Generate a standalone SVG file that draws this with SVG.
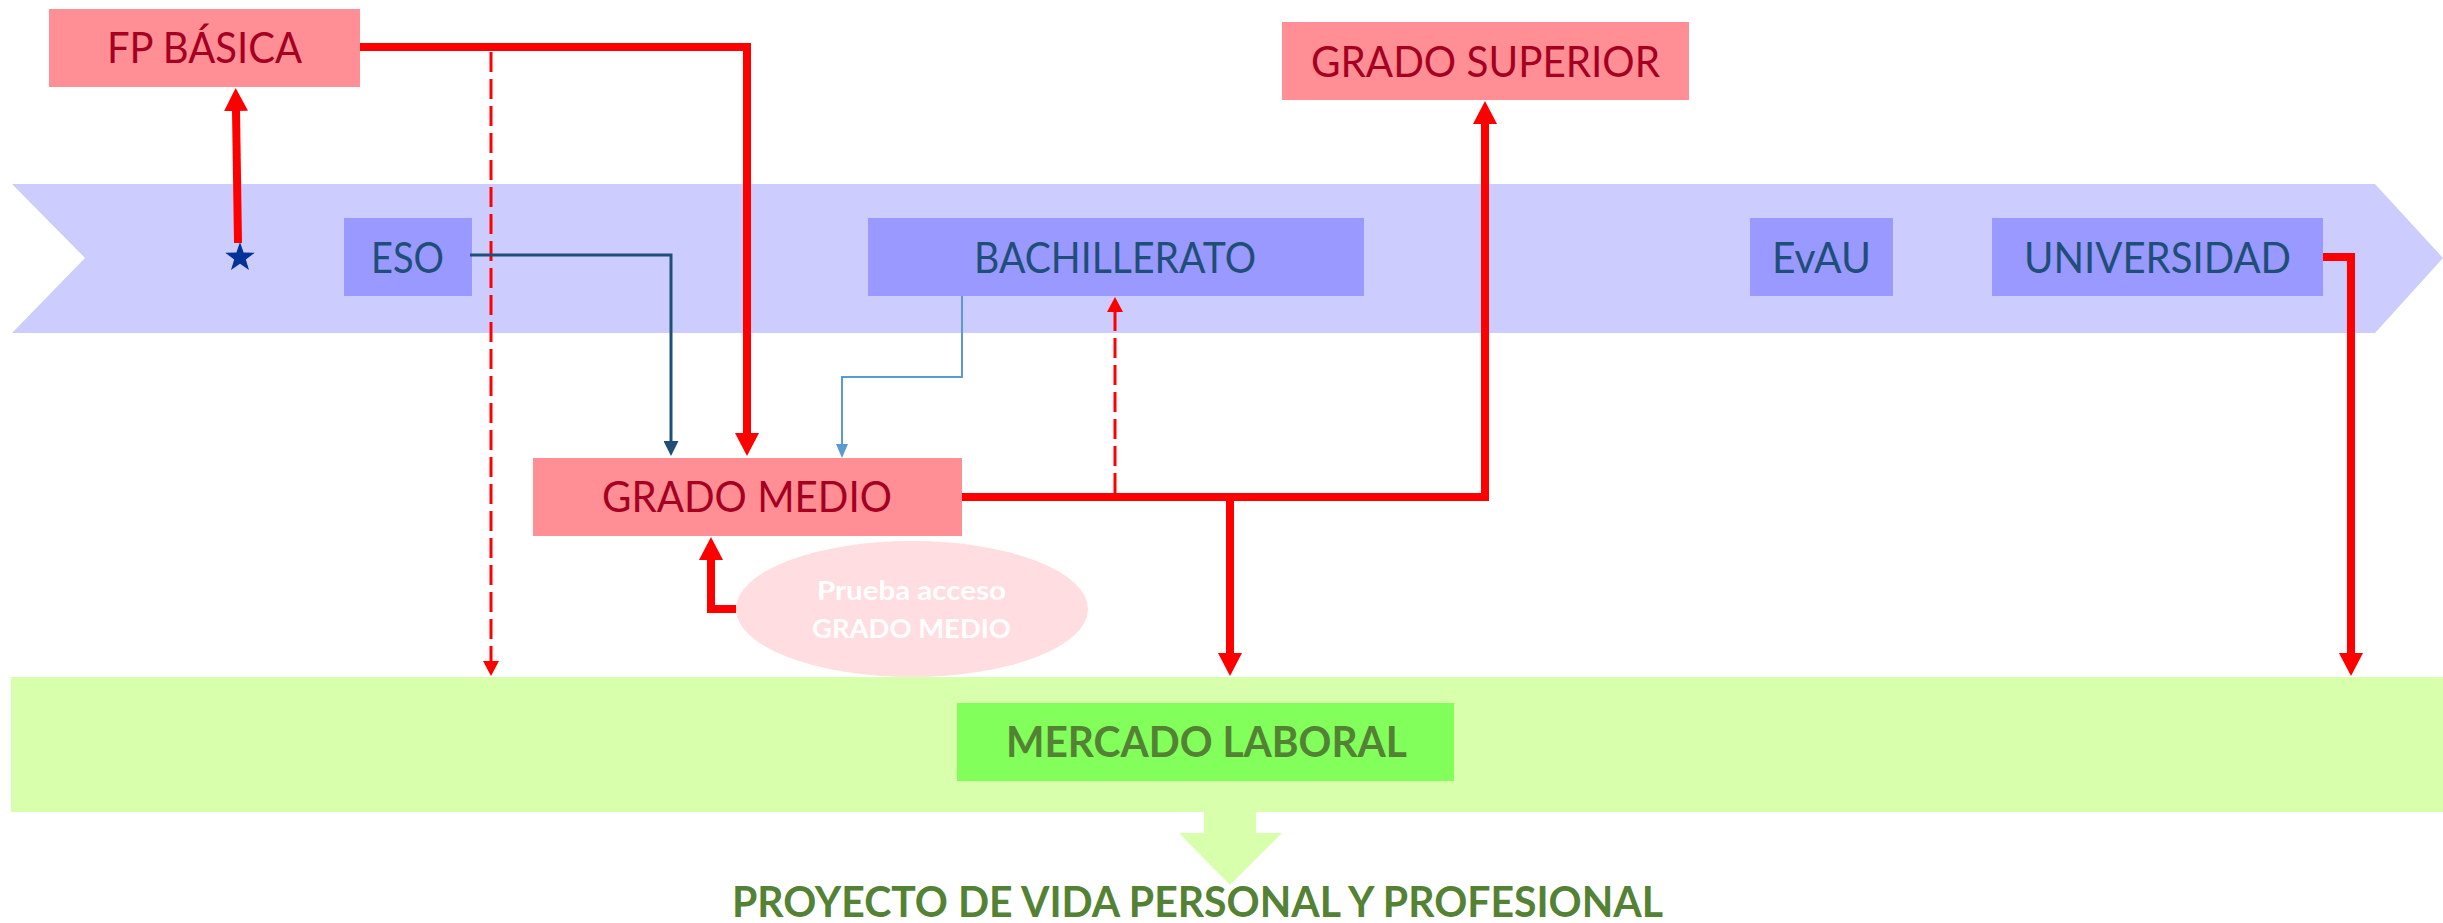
<svg xmlns="http://www.w3.org/2000/svg" width="2443" height="923" viewBox="0 0 2443 923">
<style>
.lbl{font-family:Lato,"Liberation Sans",sans-serif;font-size:42px;text-anchor:middle}
.pink{fill:#FF8F94}
.pinkt{fill:#A50021}
.blue{fill:#9999FF}
.bluet{fill:#1F4E79}
.greent{fill:#548235;font-weight:bold}
.thick{fill:none;stroke:#FF0000;stroke-width:8;stroke-linejoin:miter}
.dash{fill:none;stroke:#FF0000;stroke-width:3;stroke-dasharray:20 7}
</style>
<defs>
<marker id="ah" markerUnits="userSpaceOnUse" markerWidth="23" markerHeight="24" viewBox="0 0 23 24" refX="1" refY="12" orient="auto"><path d="M0,0 L23,12 L0,24 Z" fill="#FF0000"/></marker>
<marker id="ahd" markerUnits="userSpaceOnUse" markerWidth="15" markerHeight="16" viewBox="0 0 15 16" refX="1" refY="8" orient="auto"><path d="M0,0 L15,8 L0,16 Z" fill="#FF0000"/></marker>
<marker id="ahb" markerUnits="userSpaceOnUse" markerWidth="15" markerHeight="15" viewBox="0 0 15 15" refX="1" refY="7.5" orient="auto"><path d="M0,0 L15,7.5 L0,15 Z" fill="#1F4E79"/></marker>
<marker id="ahl" markerUnits="userSpaceOnUse" markerWidth="14" markerHeight="12" viewBox="0 0 14 12" refX="1" refY="6" orient="auto"><path d="M0,0 L14,6 L0,12 Z" fill="#5B9BD5"/></marker>
</defs>
<g id="band">
<polygon points="12,184 2375,184 2443,258 2375,333 12,333 85,258" fill="#CCCCFF"/>
</g>
<g id="mercado-band">
<rect x="11" y="677" width="2432" height="135" fill="#D8FFAB"/>
<polygon points="1204,812 1256,812 1256,833 1282,833 1230,885 1179,833 1204,833" fill="#D8FFAB"/>
</g>
<g id="star">
<polygon points="240,242 243.6,252.6 254.7,252.8 245.8,259.5 249,270.1 240,263.7 231,270.1 234.2,259.5 225.3,252.8 236.4,252.6" fill="#003399"/>
</g>
<g id="fp-basica">
<rect class="pink" x="49" y="9" width="311" height="78"/>
<text class="lbl pinkt" x="204.5" y="63" textLength="195" lengthAdjust="spacingAndGlyphs">FP BÁSICA</text>
</g>
<g id="grado-superior">
<rect class="pink" x="1282" y="22" width="407" height="78"/>
<text class="lbl pinkt" x="1485.5" y="77" textLength="349" lengthAdjust="spacingAndGlyphs">GRADO SUPERIOR</text>
</g>
<g id="eso">
<rect class="blue" x="344" y="218" width="128" height="78"/>
<text class="lbl bluet" x="407.5" y="273" textLength="73" lengthAdjust="spacingAndGlyphs">ESO</text>
</g>
<g id="bachillerato">
<rect class="blue" x="868" y="218" width="496" height="78"/>
<text class="lbl bluet" x="1115" y="273" textLength="282" lengthAdjust="spacingAndGlyphs">BACHILLERATO</text>
</g>
<g id="evau">
<rect class="blue" x="1750" y="218" width="143" height="78"/>
<text class="lbl bluet" x="1821.5" y="273" textLength="99" lengthAdjust="spacingAndGlyphs">EvAU</text>
</g>
<g id="universidad">
<rect class="blue" x="1992" y="218" width="331" height="78"/>
<text class="lbl bluet" x="2157.5" y="273" textLength="267" lengthAdjust="spacingAndGlyphs">UNIVERSIDAD</text>
</g>
<g id="grado-medio">
<rect class="pink" x="533" y="458" width="429" height="78"/>
<text class="lbl pinkt" x="747" y="512" textLength="290" lengthAdjust="spacingAndGlyphs">GRADO MEDIO</text>
</g>
<g id="prueba-acceso">
<ellipse cx="912" cy="609" rx="176" ry="68" fill="#FFDDE1"/>
<text x="911.5" y="600" font-family="Lato,'Liberation Sans',sans-serif" font-size="26" font-weight="bold" fill="#FFFFFF" text-anchor="middle" textLength="189" lengthAdjust="spacingAndGlyphs">Prueba acceso</text>
<text x="911.5" y="638" font-family="Lato,'Liberation Sans',sans-serif" font-size="26" font-weight="bold" fill="#FFFFFF" text-anchor="middle" textLength="199" lengthAdjust="spacingAndGlyphs">GRADO MEDIO</text>
</g>
<g id="mercado-laboral">
<rect x="957" y="703" width="497" height="78" fill="#82FF5A"/>
<text class="lbl greent" x="1206.5" y="757" textLength="401" lengthAdjust="spacingAndGlyphs">MERCADO LABORAL</text>
</g>
<g id="proyecto">
<text class="lbl greent" x="1197.5" y="917" textLength="931" lengthAdjust="spacingAndGlyphs">PROYECTO DE VIDA PERSONAL Y PROFESIONAL</text>
</g>
<g id="connectors">
<path class="dash" d="M491,52 V662" marker-end="url(#ahd)"/>
<path d="M470,255 H671 V442" fill="none" stroke="#1F4E79" stroke-width="3" marker-end="url(#ahb)"/>
<path d="M962,296 V377 H842 V445" fill="none" stroke="#5B9BD5" stroke-width="2" marker-end="url(#ahl)"/>
<path class="thick" d="M360,47 H747 V434" marker-end="url(#ah)"/>
<path class="thick" d="M238,243 L236,110" marker-end="url(#ah)"/>
<path class="thick" d="M962,497 H1485 V123" marker-end="url(#ah)"/>
<path class="thick" d="M1230,497 V654" marker-end="url(#ah)"/>
<path class="dash" d="M1115,493 V311" marker-end="url(#ahd)"/>
<path class="thick" d="M736,609 H711 V559" marker-end="url(#ah)"/>
<path class="thick" d="M2323,257 H2351 V654" marker-end="url(#ah)"/>
</g>
</svg>
